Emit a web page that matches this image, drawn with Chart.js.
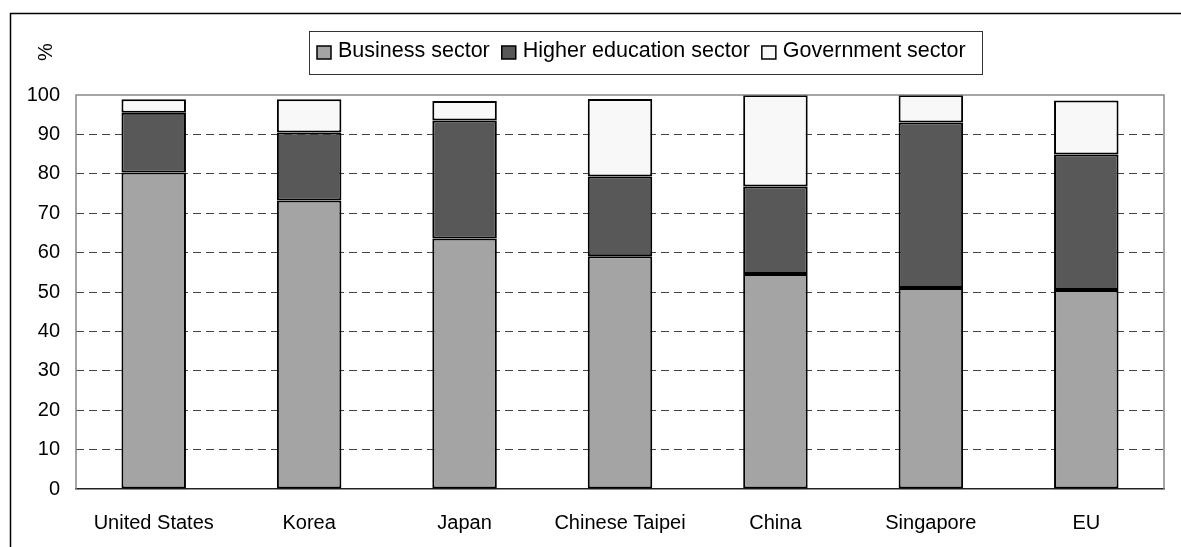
<!DOCTYPE html>
<html>
<head>
<meta charset="utf-8">
<script src="https://cdn.jsdelivr.net/npm/chart.js@4"></script>
<style>
    body { margin: 0; background: #fff; }
    canvas { display: block; }
</style>
</head>
<body>
<canvas id="rdChart" width="1181" height="547"></canvas>
<script>
const categories = ['United States', 'Korea', 'Japan', 'Chinese Taipei', 'China', 'Singapore', 'EU'];
const businessSector = [80.3, 73.2, 63.6, 59.1, 54.6, 51.0, 50.5];
const higherEducationSector = [15.2, 17.3, 29.9, 20.2, 22.2, 42.0, 34.4];
const governmentSector = [3.4, 8.4, 5.0, 19.7, 23.2, 7.0, 13.7];
const yTicks = [0, 10, 20, 30, 40, 50, 60, 70, 80, 90, 100];

const FONT = '"Liberation Sans", Arial, sans-serif';

// Frame, "%" label and the boxed legend
const decorPlugin = {
    id: 'decor',
    beforeDraw(chart) {
        const ctx = chart.ctx;
        ctx.save();
        ctx.fillStyle = '#fff';
        ctx.fillRect(0, 0, chart.width, chart.height);
        // outer frame (left and top edges visible)
        ctx.strokeStyle = '#000';
        ctx.lineWidth = 1.5;
        ctx.beginPath();
        ctx.moveTo(10.5, 560);
        ctx.lineTo(10.5, 13.5);
        ctx.lineTo(1190, 13.5);
        ctx.stroke();
        ctx.restore();
    },
    afterDraw(chart) {
        const ctx = chart.ctx;
        const area = chart.chartArea;
        ctx.save();
        // plot frame
        ctx.strokeStyle = '#888';
        ctx.lineWidth = 1.5;
        ctx.beginPath();
        ctx.moveTo(area.left, area.bottom);
        ctx.lineTo(area.left, area.top);
        ctx.lineTo(area.right, area.top);
        ctx.lineTo(area.right, area.bottom);
        ctx.stroke();

        // % label
        ctx.fillStyle = '#000';
        ctx.font = '20px ' + FONT;
        ctx.translate(46, 52);
        ctx.rotate(-Math.PI / 2);
        ctx.textAlign = 'center';
        ctx.textBaseline = 'middle';
        ctx.fillText('%', 0, 0);
        ctx.restore();

        // legend
        ctx.save();
        ctx.strokeStyle = '#333';
        ctx.lineWidth = 1;
        ctx.strokeRect(309.5, 31.5, 673, 43);
        ctx.font = '21.5px ' + FONT;
        ctx.textBaseline = 'alphabetic';
        let x = 317;
        chart.data.datasets.forEach(ds => {
            ctx.fillStyle = ds.backgroundColor;
            ctx.fillRect(x, 46, 14, 13);
            ctx.strokeStyle = '#000';
            ctx.lineWidth = 1.5;
            ctx.strokeRect(x, 46, 14, 13);
            ctx.fillStyle = '#000';
            ctx.fillText(ds.label, x + 21, 57);
            x += 21 + ctx.measureText(ds.label).width + 12;
        });
        ctx.restore();
    }
};

const ctx = document.getElementById('rdChart').getContext('2d');
new Chart(ctx, {
    type: 'bar',
    data: {
        labels: categories,
        datasets: [{
            label: 'Business sector',
            data: businessSector,
            backgroundColor: '#a4a4a4'
        }, {
            label: 'Higher education sector',
            data: higherEducationSector,
            backgroundColor: '#585858'
        }, {
            label: 'Government sector',
            data: governmentSector,
            backgroundColor: '#f8f8f8'
        }]
    },
    options: {
        responsive: false,
        animation: false,
        devicePixelRatio: 1,
        layout: {
            padding: { left: 10, top: 95, right: 17, bottom: 0 }
        },
        datasets: {
            bar: {
                categoryPercentage: 1,
                barPercentage: 0.415,
                borderColor: '#000',
                borderWidth: 2,
                borderSkipped: false
            }
        },
        plugins: {
            legend: { display: false },
            tooltip: { enabled: false }
        },
        scales: {
            x: {
                stacked: true,
                grid: { display: false },
                border: { display: true, color: '#222', width: 1.5 },
                ticks: {
                    color: '#000',
                    font: { family: FONT, size: 20 },
                    padding: 14,
                    maxRotation: 0,
                    autoSkip: false
                },
                afterFit(scale) { scale.height = 58; }
            },
            y: {
                stacked: true,
                min: 0,
                max: 100,
                afterBuildTicks(scale) {
                    scale.ticks = yTicks.map(v => ({ value: v }));
                },
                grid: {
                    drawTicks: false,
                    color: ctx => (ctx.tick && ctx.tick.value > 0 && ctx.tick.value < 100) ? '#444' : 'rgba(0,0,0,0)',
                    lineWidth: 1
                },
                border: { display: false, dash: [8, 5] },
                ticks: {
                    color: '#000',
                    font: { family: FONT, size: 20 },
                    padding: 16
                },
                afterFit(scale) { scale.width = 66; }
            }
        }
    },
    plugins: [decorPlugin]
});
</script>
</body>
</html>
